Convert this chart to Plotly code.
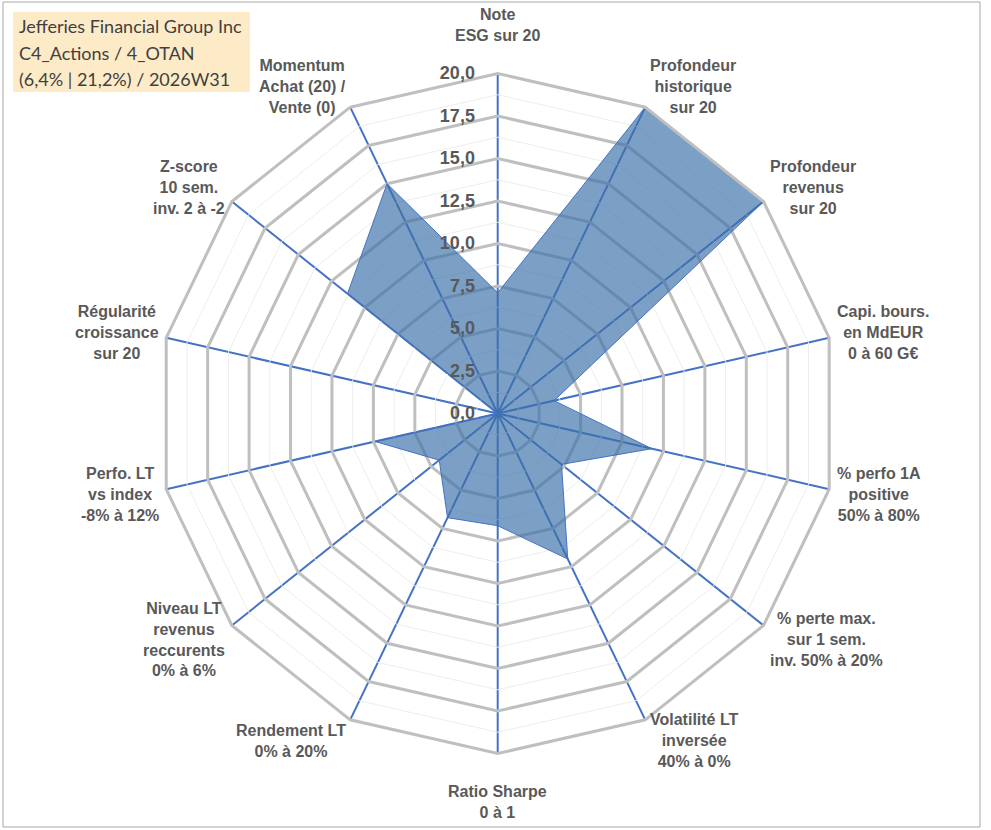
import math
import plotly.graph_objects as go

TITLE_LINES = ["Jefferies Financial Group Inc", "C4_Actions / 4_OTAN", "(6,4% | 21,2%) / 2026W31"]

CATEGORIES = [
    "Note<br>ESG sur 20",
    "Profondeur<br>historique<br>sur 20",
    "Profondeur<br>revenus<br>sur 20",
    "Capi. bours.<br>en MdEUR<br>0 à 60 G€",
    "% perfo 1A<br>positive<br>50% à 80%",
    "% perte max.<br>sur 1 sem.<br>inv. 50% à 20%",
    "Volatilité LT<br>inversée<br>40% à 0%",
    "Ratio Sharpe<br>0 à 1",
    "Rendement LT<br>0% à 20%",
    "Niveau LT<br>revenus<br>reccurents<br>0% à 6%",
    "Perfo. LT<br>vs index<br>-8% à 12%",
    "Régularité<br>croissance<br>sur 20",
    "Z-score<br>10 sem.<br>inv. 2 à -2",
    "Momentum<br>Achat (20) /<br>Vente (0)",
]
VALUES = [7.1, 20.0, 20.0, 3.4, 9.3, 4.8, 9.5, 6.6, 6.8, 4.4, 7.4, 0.0, 11.3, 15.0]

RADIAL_TICKS = [0, 2.5, 5, 7.5, 10, 12.5, 15, 17.5, 20]
MINOR_RINGS = [1.25, 3.75, 6.25, 8.75, 11.25, 13.75, 16.25, 18.75]

W, H = 991, 830
CX, CY, R = 497.7, 413.5, 340.0          # polar centre / radius in px
LBL_RX, LBL_RY = 331.6, 349.2            # where the category labels sit
LABEL_FONT = dict(family="Liberation Sans, Arial", size=16, color="#595959", weight="bold")


def px(x):
    return x / W


def py(y):
    return 1 - y / H


fig = go.Figure()

theta_closed = CATEGORIES + [CATEGORIES[0]]
for lvl in MINOR_RINGS:
    fig.add_trace(go.Scatterpolar(
        r=[lvl] * len(theta_closed), theta=theta_closed, mode="lines",
        line=dict(color="#EDEDED", width=1), hoverinfo="skip", showlegend=False,
    ))

fig.add_trace(go.Scatterpolar(
    r=VALUES + [VALUES[0]], theta=theta_closed, mode="lines",
    fill="toself", fillcolor="rgba(60,112,168,0.67)",
    line=dict(color="#4472C4", width=1), showlegend=False,
))

# category labels placed just outside each spoke
annotations = []
n = len(CATEGORIES)
for i, lab in enumerate(CATEGORIES):
    a = math.radians(i * 360.0 / n)
    s, c = math.sin(a), math.cos(a)
    vx, vy = CX + LBL_RX * s, CY - LBL_RY * c
    if abs(s) < 0.1:
        gap = 18
        ax_, ay_ = vx, vy - gap * c
        xa, ya = "center", ("bottom" if c > 0 else "top")
    else:
        gap = 14
        ax_, ay_ = vx + gap * s, vy - gap * c
        xa, ya = ("left" if s > 0 else "right"), "middle"
    annotations.append(dict(
        text=lab, x=px(ax_), y=py(ay_), xref="paper", yref="paper",
        xanchor=xa, yanchor=ya, align="center", showarrow=False, font=LABEL_FONT,
    ))

# title box
for k, line in enumerate(TITLE_LINES):
    annotations.append(dict(
        text=line, x=px(17), y=py(26 + k * 26.5), xref="paper", yref="paper",
        xanchor="left", yanchor="middle", align="left", showarrow=False,
        font=dict(family="Lato, Carlito, sans-serif", size=18, color="#404040"),
    ))

fig.update_layout(
    width=W, height=H,
    margin=dict(l=0, r=0, t=0, b=0),
    paper_bgcolor="white",
    separators=", ",
    showlegend=False,
    polar=dict(
        domain=dict(x=[px(CX - R), px(CX + R)], y=[py(CY + R), py(CY - R)]),
        bgcolor="white",
        gridshape="linear",
        radialaxis=dict(
            range=[0, 20], tickvals=RADIAL_TICKS, tickformat=".1f",
            angle=90, tickangle=90, side="counterclockwise",
            showline=False, ticks="outside", ticklen=16, tickcolor="rgba(0,0,0,0)",
            gridcolor="#BFBFBF", gridwidth=3,
            tickfont=dict(family="Liberation Sans, Arial", size=18, color="#595959", weight="bold"),
        ),
        angularaxis=dict(
            rotation=90, direction="clockwise",
            gridcolor="#4472C4", gridwidth=1.5,
            showline=True, linecolor="#BFBFBF", linewidth=3,
            ticks="", showticklabels=False,
        ),
    ),
    shapes=[
        dict(type="rect", xref="paper", yref="paper",
             x0=px(3), x1=px(980), y0=py(827), y1=py(2),
             line=dict(color="#A6A6A6", width=1), fillcolor="rgba(0,0,0,0)", layer="below"),
        dict(type="rect", xref="paper", yref="paper",
             x0=px(13), x1=px(250), y0=py(92), y1=py(12),
             line=dict(width=0), fillcolor="#FDEBC8", layer="below"),
    ],
    annotations=annotations,
)

fig.write_html("out.html", config={"displayModeBar": False},
               post_script="document.body.style.margin='0';")
